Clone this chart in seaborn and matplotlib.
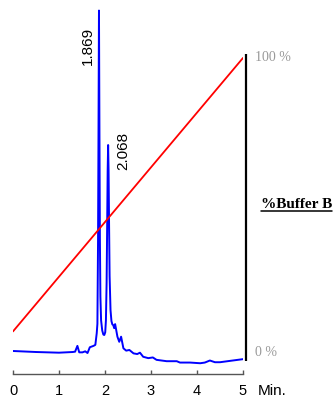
import numpy as np
import pandas as pd
import matplotlib
matplotlib.use("Agg")
import matplotlib.pyplot as plt
import matplotlib.transforms as mtransforms
from matplotlib.lines import Line2D
import seaborn as sns

# ---- data ----
time_min = [0.0, 0.5, 1.0, 1.30, 1.35, 1.40, 1.44, 1.51, 1.57, 1.62, 1.67, 1.75, 1.79,
            1.82, 1.835, 1.849, 1.859, 1.869, 1.879, 1.889, 1.90, 1.915, 1.94, 1.965,
            1.985, 2.005, 2.02, 2.035, 2.048, 2.058, 2.068, 2.078, 2.088, 2.10, 2.12,
            2.14, 2.16, 2.18, 2.20, 2.22, 2.27, 2.31, 2.35, 2.40, 2.46, 2.53, 2.62,
            2.70, 2.76, 2.83, 2.94, 3.04, 3.12, 3.34, 3.56, 3.63, 3.85, 4.07, 4.17,
            4.28, 4.39, 4.50, 4.72, 5.0]
signal_mau = [0, -3, -5, -3, -2, 15, -4, -4, -1, -6, 11, 15, 18,
              52, 80, 330, 650, 1000, 650, 330, 160, 90, 60, 48,
              47, 55, 90, 200, 380, 530, 605, 530, 380, 220, 120,
              88, 78, 76, 67, 79, 42, 27, 42, 8, 1, 3, -7,
              -9, -5, -17, -21, -19, -26, -30, -30, -34, -34, -36, -34,
              -28, -33, -33, -29, -24]
gradient_time = [0.0, 5.0]
gradient_pct = [7, 100]
peak_times = [1.869, 2.068]
peak_heights = [1000, 605]
peak_labels = ["1.869", "2.068"]
x_ticks = [0, 1, 2, 3, 4, 5]

trace = pd.DataFrame({"t": time_min, "s": signal_mau})
grad = pd.DataFrame({"t": gradient_time, "b": gradient_pct})

sns.set_style("white")
plt.rcParams["font.family"] = ["Liberation Sans", "DejaVu Sans"]

W, H = 336, 397
fig = plt.figure(figsize=(W / 100, H / 100), dpi=100)
ax = fig.add_axes([13 / W, 23 / H, 230 / W, 374 / H])
ax.set_xlim(0, 5)
ax.set_ylim(-67.6, 1031)
ax.patch.set_alpha(0)

ax2 = ax.twinx()
ax2.set_ylim(-7.48, 119.7)

sns.lineplot(data=trace, x="t", y="s", ax=ax, color="#0000ff", linewidth=1.4,
             sort=False, estimator=None)
sns.lineplot(data=grad, x="t", y="b", ax=ax2, color="#ff0000", linewidth=1.3,
             estimator=None)

ax2.vlines(5.065, -3, 101.5, color="black", linewidth=1.6, clip_on=False)

for sp in ["left", "top", "right"]:
    ax.spines[sp].set_visible(False)
    ax2.spines[sp].set_visible(False)
ax2.spines["bottom"].set_visible(False)
ax.spines["bottom"].set_color("#555555")
ax.spines["bottom"].set_linewidth(1.0)
ax.set_xticks(x_ticks)
ax.set_xticklabels([str(v) for v in x_ticks])
ax.tick_params(axis="x", bottom=True, direction="in", length=3, width=1,
               color="#555555", labelsize=10.5, pad=7, labelcolor="black")
ax.set_yticks([])
ax2.set_yticks([])
ax.set_xlabel("")
ax.set_ylabel("")
ax2.set_ylabel("")

# peak labels
offsets = [-0.24, 0.32]
yfrac = [0.896, 0.972]
for pt, ph, lab, dx, fy in zip(peak_times, peak_heights, peak_labels, offsets, yfrac):
    ax.text(pt + dx, ph * fy, lab, rotation=90, ha="center", va="center",
            fontsize=11, color="black")

# gradient axis labels
ax2.text(5.26, 100, "100 %", ha="left", va="center", fontsize=10,
         family="Liberation Serif", color="#999999", clip_on=False)
ax2.text(5.26, 0, "0 %", ha="left", va="center", fontsize=10,
         family="Liberation Serif", color="#999999", clip_on=False)

trans = mtransforms.blended_transform_factory(ax.transData, fig.transFigure)
ax.text(5.33, 1 - 391 / H, "Min.", ha="left", va="center", fontsize=11,
        color="black", transform=trans, clip_on=False)

tb = fig.text(261 / W, 1 - 208.5 / H, "%Buffer B", ha="left", va="baseline",
              fontsize=11, fontweight="bold", family="Liberation Serif", color="black")
fig.canvas.draw()
bb = tb.get_window_extent()
uy = (H - 210.8) / H
fig.add_artist(Line2D([bb.x0 / W, bb.x1 / W], [uy, uy], transform=fig.transFigure,
                      color="black", linewidth=1.1))

fig.savefig("out.png", dpi=100)
